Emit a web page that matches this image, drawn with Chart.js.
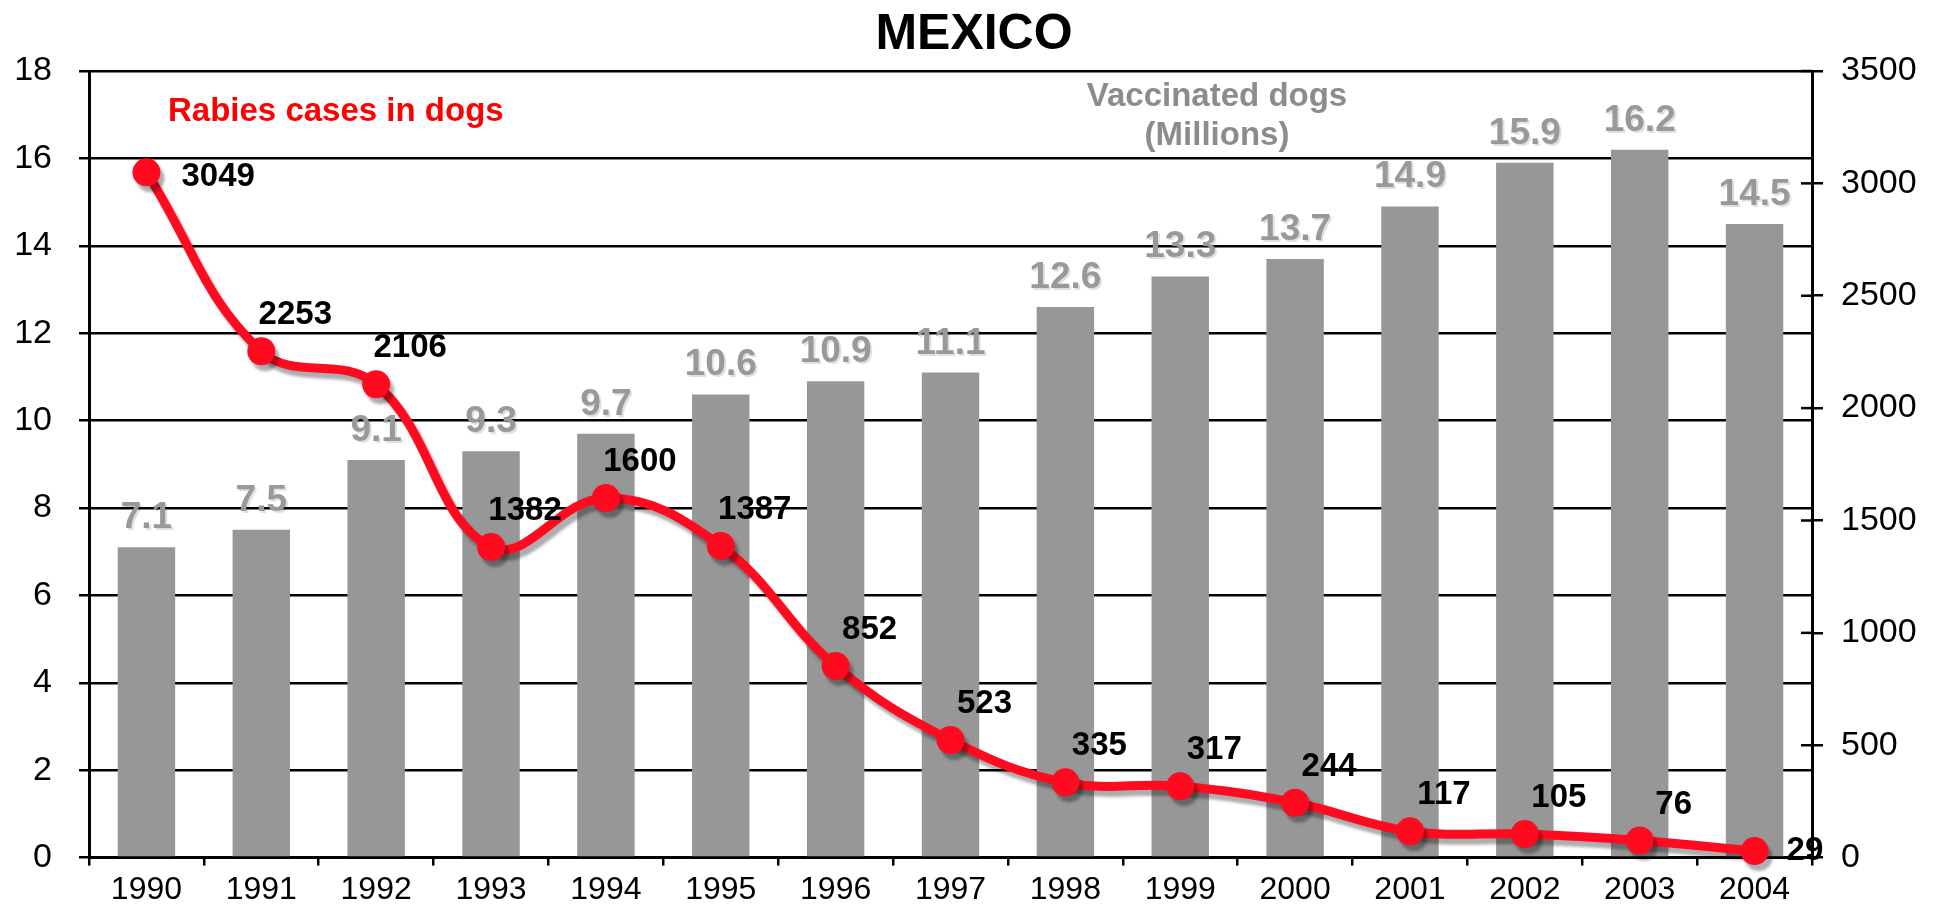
<!DOCTYPE html>
<html><head><meta charset="utf-8">
<script src="https://cdn.jsdelivr.net/npm/chart.js@4"></script>
<style>html,body{margin:0;padding:0;background:#fff;overflow:hidden}#wrap{width:1948px;height:905px}</style>
</head><body><div id="wrap"><canvas id="c" width="1948" height="905"></canvas></div>
<script>
const years = ['1990','1991','1992','1993','1994','1995','1996','1997','1998','1999','2000','2001','2002','2003','2004'];
const vaccinatedDogsMillions = [7.1,7.5,9.1,9.3,9.7,10.6,10.9,11.1,12.6,13.3,13.7,14.9,15.9,16.2,14.5];
const rabiesCasesDogs = [3049,2253,2106,1382,1600,1387,852,523,335,317,244,117,105,76,29];
const chartTitle = 'MEXICO';
const rabiesLabel = 'Rabies cases in dogs';
const vaccinatedLabel = ['Vaccinated dogs','(Millions)'];
const leftAxisMax = 18, leftAxisStep = 2;
const rightAxisMax = 3500, rightAxisStep = 500;

const FONT = "'Liberation Sans', Arial, sans-serif";
const RED = '#ff0a1e';
const GREY = '#979797';

const shadowPlugin = {
  id: 'lineShadow',
  beforeDatasetDraw(chart, args) {
    if (args.meta.type !== 'line') return;
    const ctx = chart.ctx;
    ctx.save();
    ctx.shadowColor = 'rgba(0,0,0,0.32)';
    ctx.shadowOffsetX = 4;
    ctx.shadowOffsetY = 6;
    ctx.shadowBlur = 3;
  },
  afterDatasetDraw(chart, args) {
    if (args.meta.type !== 'line') return;
    chart.ctx.restore();
  }
};

// inner half of the "cross" tick marks on the right axis
const crossTickPlugin = {
  id: 'crossTicks',
  afterDraw(chart) {
    const s = chart.scales.y1;
    const ctx = chart.ctx;
    ctx.save();
    ctx.strokeStyle = '#000';
    ctx.lineWidth = 2.5;
    s.ticks.forEach(t => {
      const y = s.getPixelForValue(t.value);
      ctx.beginPath();
      ctx.moveTo(s.left - 11, y);
      ctx.lineTo(s.left, y);
      ctx.stroke();
    });
    ctx.restore();
  }
};

const labelPlugin = {
  id: 'valueLabels',
  afterDatasetsDraw(chart) {
    const ctx = chart.ctx;
    const area = chart.chartArea;
    // bar labels
    const barMeta = chart.getDatasetMeta(0);
    ctx.save();
    ctx.font = 'bold 37px ' + FONT;
    ctx.fillStyle = '#999999';
    ctx.textAlign = 'center';
    ctx.textBaseline = 'alphabetic';
    ctx.shadowColor = 'rgba(0,0,0,0.12)';
    ctx.shadowOffsetX = 2; ctx.shadowOffsetY = 2;
    barMeta.data.forEach((bar, i) => {
      ctx.fillText(String(vaccinatedDogsMillions[i]), bar.x, bar.y - 19);
    });
    ctx.restore();
    // line labels
    const lineMeta = chart.getDatasetMeta(1);
    ctx.save();
    ctx.font = 'bold 33px ' + FONT;
    ctx.fillStyle = '#000';
    ctx.textBaseline = 'middle';
    const n = lineMeta.data.length;
    lineMeta.data.forEach((pt, i) => {
      const txt = String(rabiesCasesDogs[i]);
      if (i === 0) { ctx.textAlign = 'left'; ctx.fillText(txt, pt.x + 35, pt.y + 5); }
      else if (i === n - 1) { ctx.textAlign = 'left'; ctx.fillText(txt, pt.x + 32, pt.y); }
      else { ctx.textAlign = 'center'; ctx.fillText(txt, pt.x + 34, pt.y - 36); }
    });
    ctx.restore();
    // annotations
    ctx.save();
    ctx.font = 'bold 33px ' + FONT;
    ctx.fillStyle = '#ff0000';
    ctx.textAlign = 'left';
    ctx.textBaseline = 'middle';
    ctx.fillText(rabiesLabel, area.left + 79, area.top + 41);
    ctx.font = 'bold 33px ' + FONT;
    ctx.fillStyle = '#8c8c8c';
    ctx.textAlign = 'center';
    ctx.fillText(vaccinatedLabel[0], area.left + 1128, area.top + 26);
    ctx.fillText(vaccinatedLabel[1], area.left + 1128, area.top + 65);
    ctx.restore();
  }
};

new Chart(document.getElementById('c'), {
  data: {
    labels: years,
    datasets: [
      {
        type: 'bar', label: 'Vaccinated dogs (Millions)', data: vaccinatedDogsMillions,
        yAxisID: 'y', backgroundColor: GREY, barPercentage: 0.5, categoryPercentage: 1.0, order: 2
      },
      {
        type: 'line', label: 'Rabies cases in dogs', data: rabiesCasesDogs,
        yAxisID: 'y1', borderColor: RED, borderWidth: 9, tension: 0.4,
        pointRadius: 14, pointBackgroundColor: RED, pointBorderColor: RED, pointBorderWidth: 0,
        clip: false, order: 1
      }
    ]
  },
  options: {
    responsive: false, animation: false, devicePixelRatio: 1,
    layout: { padding: 0 },
    plugins: {
      legend: { display: false },
      tooltip: { enabled: false },
      title: {
        display: true, text: chartTitle, color: '#000',
        font: { family: FONT, size: 50, weight: 'bold', lineHeight: 1.2 },
        padding: { top: 5, bottom: 6 }
      }
    },
    scales: {
      x: {
        offset: true,
        grid: { display: true, drawOnChartArea: false, drawTicks: true, tickLength: 8, color: '#000', lineWidth: 2.5, offset: true },
        border: { display: true, color: '#000', width: 3 },
        ticks: { color: '#000', font: { family: FONT, size: 32 }, padding: 5, maxRotation: 0, autoSkip: false },
        afterFit(s) { s.height = 42; }
      },
      y: {
        position: 'left', min: 0, max: leftAxisMax,
        grid: { color: '#000', lineWidth: 2.5, tickLength: 10, drawTicks: true },
        border: { display: true, color: '#000', width: 3 },
        ticks: { stepSize: leftAxisStep, color: '#000', font: { family: FONT, size: 34 }, padding: 27 },
        afterFit(s) { s.width = 89; }
      },
      y1: {
        position: 'right', min: 0, max: rightAxisMax,
        grid: { drawOnChartArea: false, drawTicks: true, tickLength: 11, color: '#000', lineWidth: 2.5 },
        border: { display: true, color: '#000', width: 3 },
        ticks: { stepSize: rightAxisStep, color: '#000', font: { family: FONT, size: 34 }, padding: 18,
                 callback: v => String(v) },
        afterFit(s) { s.width = 136; }
      }
    }
  },
  plugins: [shadowPlugin, labelPlugin, crossTickPlugin]
});
</script>
</body></html>
